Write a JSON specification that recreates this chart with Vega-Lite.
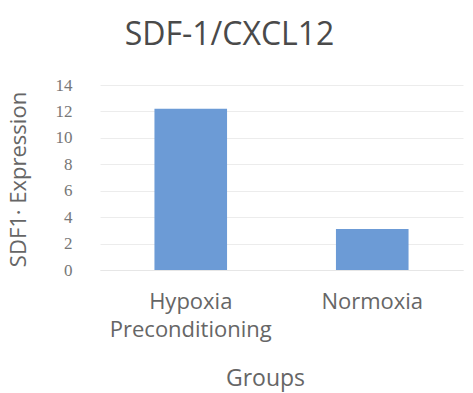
{
  "$schema": "https://vega.github.io/schema/vega-lite/v6.json",
  "autosize": {"type": "none"},
  "padding": {"left": 100, "top": 85, "right": 10, "bottom": 123},
  "width": 363,
  "height": 185,
  "background": "#ffffff",
  "title": {
    "text": "SDF-1/CXCL12",
    "font": "Open Sans",
    "fontSize": 32,
    "fontWeight": "normal",
    "color": "#4a4a4a",
    "anchor": "middle",
    "dx": -52,
    "dy": 44,
    "baseline": "bottom",
    "offset": 36
  },
  "data": {
    "values": [
      {"group": "Hypoxia Preconditioning", "value": 12.2},
      {"group": "Normoxia", "value": 3.1}
    ]
  },
  "mark": {"type": "bar", "color": "#6c9bd6"},
  "encoding": {
    "x": {
      "field": "group",
      "type": "nominal",
      "sort": null,
      "scale": {"paddingInner": 0.6, "paddingOuter": 0.3},
      "axis": {
        "title": "Groups",
        "titleFont": "Open Sans",
        "titleFontSize": 23,
        "titleFontWeight": "normal",
        "titleColor": "#666666",
        "titleX": 165,
        "titleY": 108,
        "titleBaseline": "middle",
        "titleAlign": "center",
        "labelAngle": 0,
        "labelFont": "Open Sans",
        "labelFontSize": 22,
        "labelColor": "#666666",
        "labelPadding": 21,
        "labelLineHeight": 28,
        "labelBaseline": "top",
        "labelExpr": "datum.label == 'Hypoxia Preconditioning' ? ['Hypoxia', 'Preconditioning'] : datum.label",
        "ticks": false,
        "domain": true,
        "domainColor": "#e6e6e6",
        "grid": false
      }
    },
    "y": {
      "field": "value",
      "type": "quantitative",
      "scale": {"domain": [0, 14], "nice": false},
      "axis": {
        "title": "SDF1· Expression",
        "titleFont": "Open Sans",
        "titleFontSize": 22,
        "titleFontWeight": "normal",
        "titleColor": "#666666",
        "titleX": -82,
        "titleY": 94,
        "titleAngle": -90,
        "titleAlign": "center",
        "titleBaseline": "middle",
        "values": [0, 2, 4, 6, 8, 10, 12, 14],
        "labelFont": "Liberation Serif",
        "labelFontSize": 17,
        "labelColor": "#777777",
        "labelPadding": 28,
        "ticks": false,
        "domain": false,
        "grid": true,
        "gridColor": "#ececec",
        "gridWidth": 1
      }
    }
  },
  "config": {"view": {"stroke": null}}
}
